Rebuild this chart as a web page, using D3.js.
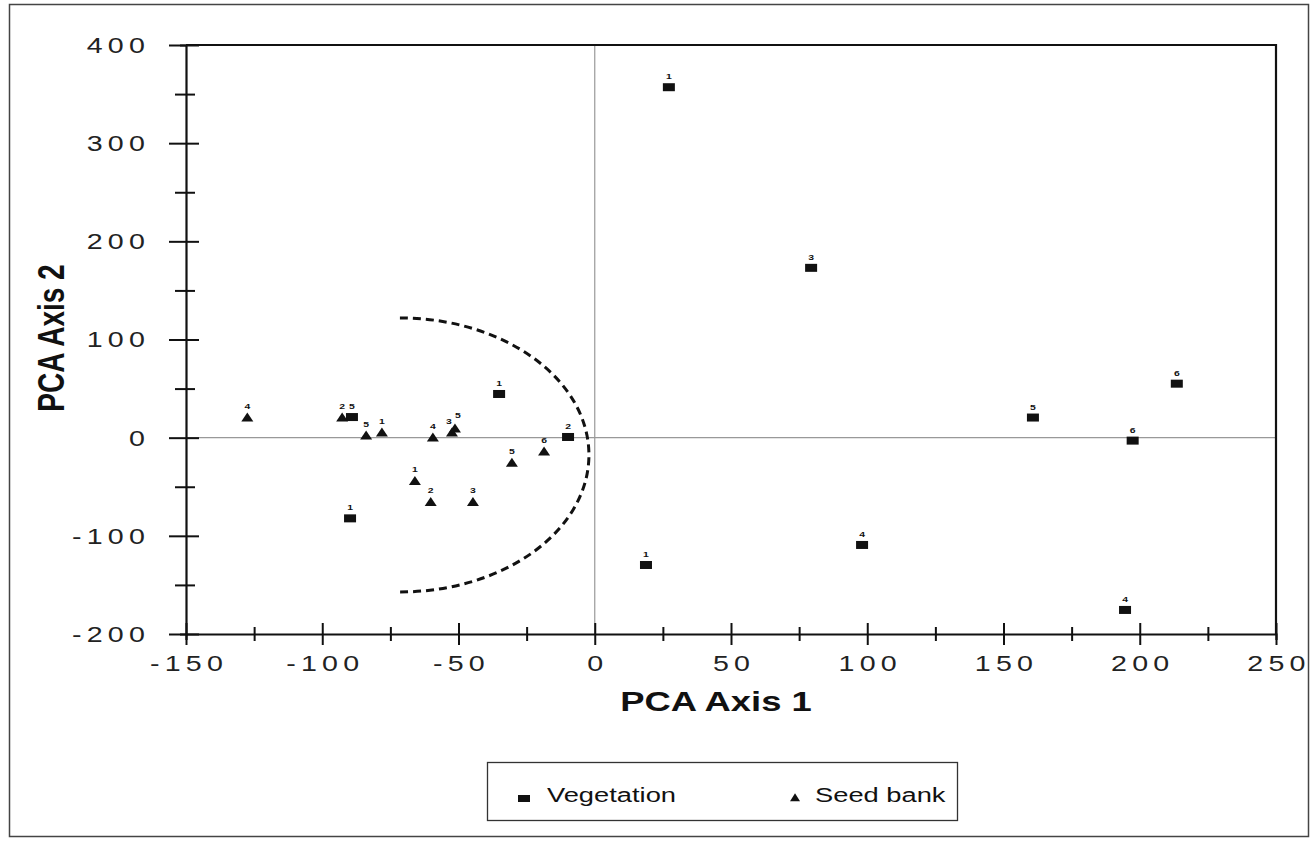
<!DOCTYPE html>
<html lang="en">
<head>
<meta charset="UTF-8">
<title>PCA Axis 1 vs PCA Axis 2</title>
<script src="https://cdnjs.cloudflare.com/ajax/libs/d3/7.8.5/d3.min.js"></script>
<style>
    body { margin: 0; background: #fff; font-family: "Liberation Sans", Arial, sans-serif; }
    .tick-label { font-size: 22px; letter-spacing: 4px; fill: #222; }
    .axis-title { font-size: 28px; font-weight: bold; fill: #111; }
    .pt-label { font-size: 8px; font-weight: bold; fill: #111; }
    .legend-text { font-size: 21px; fill: #111; }
</style>
</head>
<body>
<div id="chart"></div>
<script>
// Vegetation samples (squares)
const vegX = [27.2, 79.4, -35.1, -89.1, -9.8, -89.8, 18.8, 98.1, 160.8, 213.6, 197.4, 194.6];
const vegY = [357, 173, 44.5, 21, 0.7, -82.2, -129.7, -109.3, 20.5, 55, -3, -175.5];
const vegLab = ["1", "3", "1", "5", "2", "1", "1", "4", "5", "6", "6", "4"];

// Seed bank samples (triangles)
const seedX = [-127.5, -92.7, -83.9, -78.1, -59.4, -52.4, -51.3, -18.6, -30.4, -66.0, -60.2, -44.7];
const seedY = [20.1, 20.1, 1.7, 4.8, -0.3, 4.8, 8.9, -14.6, -25.9, -44.5, -65.9, -65.9];
const seedLab = ["4", "2", "5", "1", "4", "3", "5", "6", "5", "1", "2", "3"];

const xMajor = [-150, -100, -50, 0, 50, 100, 150, 200, 250];
const xMinor = [-125, -75, -25, 25, 75, 125, 175, 225];
const yMajor = [-200, -100, 0, 100, 200, 300, 400];
const yMinor = [-150, -50, 50, 150, 250, 350];

// dashed half-ellipse around the seed bank cluster (data units)
const arcCenter = [-71.5, -17.6];
const arcRadii = [69.4, 139.6];

const W = 1313, H = 841;
const SX = 1.3; // horizontal stretch of the original scan

const svg = d3.select("#chart").append("svg")
    .attr("width", W).attr("height", H);

// outer frame
svg.append("rect")
    .attr("x", 9.5).attr("y", 4.5)
    .attr("width", 1299).attr("height", 832)
    .attr("fill", "none").attr("stroke", "#444").attr("stroke-width", 1.5);

const x = d3.scaleLinear().domain([-150, 250]).range([186, 1276]);
const y = d3.scaleLinear().domain([-200, 400]).range([634, 45]);

// zero lines
svg.append("line")
    .attr("x1", x(0)).attr("x2", x(0)).attr("y1", y(400)).attr("y2", y(-200))
    .attr("stroke", "#999").attr("stroke-width", 1.2);
svg.append("line")
    .attr("x1", x(-150)).attr("x2", x(250)).attr("y1", y(0)).attr("y2", y(0))
    .attr("stroke", "#999").attr("stroke-width", 1.2);

// frame top & right
svg.append("path")
    .attr("d", `M${x(-150)},${y(400)}H${x(250)}V${y(-200)}`)
    .attr("fill", "none").attr("stroke", "#111").attr("stroke-width", 2.2);

// axes
const yAxis = svg.append("g")
    .attr("transform", `translate(${x(-150)},0)`)
    .call(d3.axisLeft(y).tickValues(yMajor.concat(yMinor)).tickFormat(""));
yAxis.selectAll(".tick line")
    .attr("x1", d => yMajor.includes(d) ? -17 : -11)
    .attr("x2", d => yMajor.includes(d) ? 13 : 9);

const xAxis = svg.append("g")
    .attr("transform", `translate(0,${y(-200)})`)
    .call(d3.axisBottom(x).tickValues(xMajor.concat(xMinor)).tickFormat(""));
xAxis.selectAll(".tick line")
    .attr("y1", d => xMajor.includes(d) ? -11 : -7)
    .attr("y2", d => xMajor.includes(d) ? 11 : 7);

svg.selectAll(".domain").attr("stroke", "#111").attr("stroke-width", 2.2);
svg.selectAll(".tick line").attr("stroke", "#111").attr("stroke-width", 2);

// tick labels
svg.selectAll(".ylab").data(yMajor).enter().append("text")
    .attr("class", "tick-label")
    .attr("transform", d => `translate(150,${y(d)}) scale(${SX},1)`)
    .attr("text-anchor", "end")
    .attr("dy", "0.36em")
    .text(d => d);

svg.selectAll(".xlab").data(xMajor).enter().append("text")
    .attr("class", "tick-label")
    .attr("transform", d => `translate(${x(d) + 3},671) scale(${SX},1)`)
    .attr("text-anchor", "middle")
    .text(d => d);

// axis titles
svg.append("text")
    .attr("class", "axis-title")
    .attr("transform", `translate(716,711) scale(${SX},1)`)
    .attr("text-anchor", "middle")
    .text("PCA Axis 1");
svg.append("text")
    .attr("class", "axis-title")
    .attr("transform", `translate(64,338) scale(${SX},1) rotate(-90)`)
    .attr("text-anchor", "middle")
    .text("PCA Axis 2");

// dashed arc
const rxPx = x(arcCenter[0] + arcRadii[0]) - x(arcCenter[0]);
const ryPx = y(arcCenter[1]) - y(arcCenter[1] + arcRadii[1]);
svg.append("path")
    .attr("d", `M${x(arcCenter[0])},${y(arcCenter[1] + arcRadii[1])}` +
        `A${rxPx},${ryPx} 0 0 1 ${x(arcCenter[0])},${y(arcCenter[1] - arcRadii[1])}`)
    .attr("fill", "none").attr("stroke", "#111")
    .attr("stroke-width", 3).attr("stroke-dasharray", "8,5");

// markers
const tri = (w, h) => `M0,${-h * 0.6}L${w / 2},${h * 0.4}L${-w / 2},${h * 0.4}Z`;

const veg = d3.range(vegX.length).map(i => ({x: vegX[i], y: vegY[i], lab: vegLab[i]}));
const seed = d3.range(seedX.length).map(i => ({x: seedX[i], y: seedY[i], lab: seedLab[i]}));

svg.selectAll(".veg").data(veg).enter().append("rect")
    .attr("class", "veg")
    .attr("x", d => x(d.x) - 6).attr("y", d => y(d.y) - 4)
    .attr("width", 12).attr("height", 8)
    .attr("fill", "#111");

svg.selectAll(".seed").data(seed).enter().append("path")
    .attr("class", "seed")
    .attr("transform", d => `translate(${x(d.x)},${y(d.y)})`)
    .attr("d", tri(12, 9))
    .attr("fill", "#111");

svg.selectAll(".vlab").data(veg).enter().append("text")
    .attr("class", "pt-label")
    .attr("transform", d => `translate(${x(d.x)},${y(d.y) - 8}) scale(${SX},1)`)
    .attr("text-anchor", "middle")
    .text(d => d.lab);

// nudge labels of near-coincident triangles apart, as in the original
svg.selectAll(".slab").data(seed).enter().append("text")
    .attr("class", "pt-label")
    .attr("transform", (d, i) => {
        const close = seed.some((e, j) => j !== i && Math.abs(x(e.x) - x(d.x)) < 5 && Math.abs(y(e.y) - y(d.y)) < 6);
        const dx = close ? (y(d.y) < d3.min(seed.filter(e => Math.abs(x(e.x) - x(d.x)) < 5), e => y(e.y)) + 0.1 ? 3 : -3) : 0;
        const dy = close && dx > 0 ? -2 : 0;
        return `translate(${x(d.x) + dx},${y(d.y) - 9 + dy}) scale(${SX},1)`;
    })
    .attr("text-anchor", "middle")
    .text(d => d.lab);

// legend
const lg = svg.append("g");
lg.append("rect")
    .attr("x", 487.5).attr("y", 762.5).attr("width", 470).attr("height", 58)
    .attr("fill", "#fff").attr("stroke", "#333").attr("stroke-width", 1.3);
lg.append("rect")
    .attr("x", 518).attr("y", 795).attr("width", 12).attr("height", 7).attr("fill", "#111");
lg.append("text")
    .attr("class", "legend-text")
    .attr("transform", `translate(547,802) scale(${SX},1)`)
    .text("Vegetation");
lg.append("path")
    .attr("transform", "translate(795,798)")
    .attr("d", tri(10, 8)).attr("fill", "#111");
lg.append("text")
    .attr("class", "legend-text")
    .attr("transform", `translate(815,802) scale(${SX},1)`)
    .text("Seed bank");
</script>
</body>
</html>
